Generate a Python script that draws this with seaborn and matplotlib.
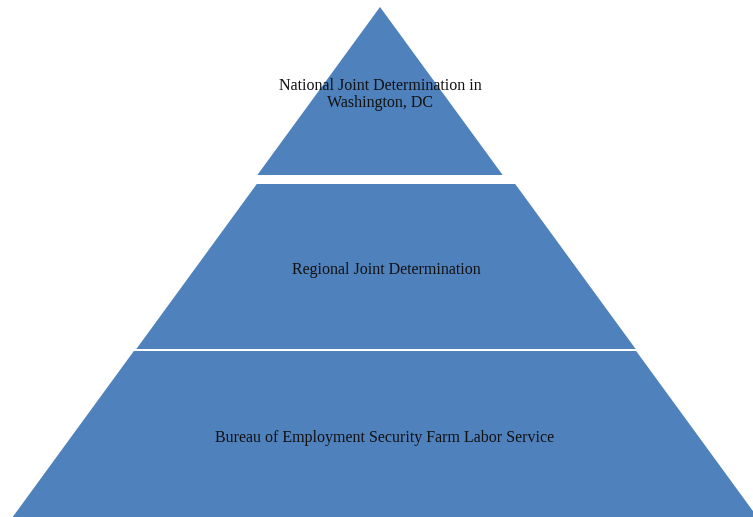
import matplotlib
matplotlib.use("Agg")
import matplotlib.pyplot as plt
import seaborn as sns
import numpy as np

# Data: pyramid levels (top to bottom)
levels = [
    "National Joint Determination in\nWashington, DC",
    "Regional Joint Determination",
    "Bureau of Employment Security Farm Labor Service",
]

# Layout (pixels in a 753x517 canvas)
W, H = 753, 517
tier_tops = [7, 184, 351]
tier_bottoms = [175, 349, 517]
tier_centers = [380, 386, 385]
apex_y = 7
slope = 0.73  # half-width per pixel of depth
fill_color = "#4F81BD"

sns.set_theme(style="white")
plt.rcParams["font.family"] = ["Liberation Serif", "DejaVu Serif"]

fig = plt.figure(figsize=(W / 100, H / 100), dpi=100)
ax = fig.add_axes([0, 0, 1, 1])
ax.set_xlim(0, W)
ax.set_ylim(H, 0)
ax.axis("off")

for label, top, bot, cx in zip(levels, tier_tops, tier_bottoms, tier_centers):
    hw_top = (top - apex_y) * slope
    hw_bot = (bot - apex_y) * slope
    xs = [cx - hw_top, cx + hw_top, cx + hw_bot, cx - hw_bot]
    ys = [top, top, bot, bot]
    ax.fill(xs, ys, color=fill_color, linewidth=0)
    ax.text(cx, (top + bot) / 2 + 3.5, label, ha="center", va="center",
            fontsize=11.5, color="#111111", linespacing=1.15)

fig.savefig("out.png", dpi=100)
